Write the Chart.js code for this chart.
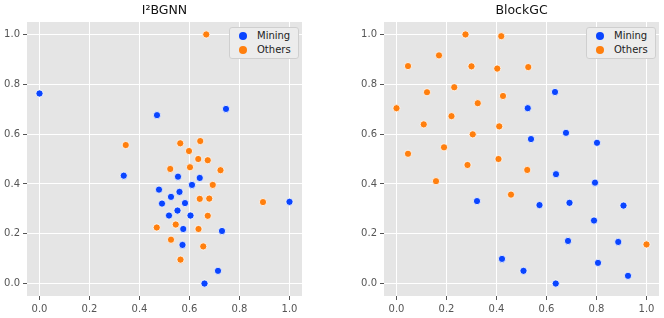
<!DOCTYPE html>
<html>
<head>
<meta charset="utf-8">
<script src="https://cdn.jsdelivr.net/npm/chart.js@4/dist/chart.umd.min.js"></script>
<style>
    html, body { margin: 0; padding: 0; background: #fff; overflow: hidden; }
    .panel { position: absolute; top: 0; width: 332px; height: 318px; }
    #panel-left { left: 0; }
    #panel-right { left: 332px; }
    .legend {
        position: absolute; top: 27px; width: 68px; height: 30px;
        background: #ececec; border: 1px solid #cfcfcf; border-radius: 3px;
        font-family: 'DejaVu Sans', sans-serif; font-size: 10px; color: #222;
    }
    .legend div { position: absolute; left: 9px; height: 14px; line-height: 14px; }
    .legend span.dot {
        display: inline-block; width: 8px; height: 8px; border-radius: 50%;
        vertical-align: -1px; margin-right: 10px;
    }
</style>
</head>
<body>
<div class="panel" id="panel-left">
    <canvas id="chart-left" width="332" height="318"></canvas>
    <div class="legend" style="left:229px">
        <div style="top:1px"><span class="dot" style="background:#0a45ff"></span>Mining</div>
        <div style="top:15px"><span class="dot" style="background:#ff7f0e"></span>Others</div>
    </div>
</div>
<div class="panel" id="panel-right">
    <canvas id="chart-right" width="332" height="318"></canvas>
    <div class="legend" style="left:254px">
        <div style="top:1px"><span class="dot" style="background:#0a45ff"></span>Mining</div>
        <div style="top:15px"><span class="dot" style="background:#ff7f0e"></span>Others</div>
    </div>
</div>
<script>
// Tick labels shared by both axes of both panels
const tickValues = [0.0, 0.2, 0.4, 0.6, 0.8, 1.0];

// I2BGNN panel
const leftMiningX = [0.000, 0.470, 0.746, 0.337, 0.554, 0.641, 0.610, 0.478, 0.560, 0.526, 0.490, 0.582, 0.552, 0.518, 0.604, 0.575, 0.730, 0.572, 0.714, 0.660, 1.000];
const leftMiningY = [0.763, 0.676, 0.701, 0.433, 0.429, 0.424, 0.396, 0.377, 0.368, 0.348, 0.321, 0.323, 0.293, 0.273, 0.273, 0.219, 0.211, 0.155, 0.051, 0.000, 0.328];
const leftOthersX = [0.667, 0.345, 0.563, 0.643, 0.598, 0.635, 0.673, 0.523, 0.602, 0.724, 0.693, 0.641, 0.679, 0.894, 0.673, 0.469, 0.545, 0.636, 0.526, 0.655, 0.564];
const leftOthersY = [1.000, 0.556, 0.563, 0.572, 0.532, 0.500, 0.495, 0.460, 0.467, 0.455, 0.396, 0.340, 0.341, 0.327, 0.272, 0.225, 0.237, 0.219, 0.176, 0.149, 0.096];

// BlockGC panel
const rightMiningX = [0.525, 0.634, 0.538, 0.678, 0.802, 0.638, 0.794, 0.322, 0.572, 0.692, 0.908, 0.790, 0.686, 0.887, 0.422, 0.806, 0.508, 0.926, 0.637];
const rightMiningY = [0.704, 0.769, 0.580, 0.605, 0.565, 0.439, 0.405, 0.331, 0.315, 0.324, 0.313, 0.253, 0.171, 0.167, 0.099, 0.083, 0.051, 0.031, 0.000];
const rightOthersX = [0.000, 0.046, 0.170, 0.276, 0.419, 0.300, 0.403, 0.527, 0.122, 0.231, 0.426, 0.325, 0.220, 0.109, 0.411, 0.305, 0.190, 0.046, 0.408, 0.158, 0.284, 0.523, 0.458, 1.000];
const rightOthersY = [0.704, 0.873, 0.916, 1.000, 0.993, 0.872, 0.863, 0.869, 0.768, 0.788, 0.753, 0.724, 0.672, 0.639, 0.631, 0.599, 0.547, 0.521, 0.500, 0.411, 0.476, 0.456, 0.357, 0.157];

const MINING_COLOR = '#0a45ff';
const OTHERS_COLOR = '#ff7f0e';
const FONT = "'DejaVu Sans', sans-serif";

// gray panel background like matplotlib's ggplot style
const panelBackground = {
    id: 'panelBackground',
    beforeDraw(chart) {
        const a = chart.chartArea;
        const ctx = chart.ctx;
        ctx.save();
        ctx.fillStyle = '#e5e5e5';
        ctx.fillRect(a.left, a.top, a.right - a.left, a.bottom - a.top);
        ctx.restore();
    }
};

function toPoints(xs, ys) {
    return xs.map((x, i) => ({ x: x, y: ys[i] }));
}

function makeDataset(label, xs, ys, color, order) {
    return {
        label: label,
        data: toPoints(xs, ys),
        backgroundColor: color,
        borderColor: '#ffffff',
        borderWidth: 0.8,
        pointRadius: 3.6,
        order: order
    };
}

function axisOptions(fitSize, isX) {
    return {
        type: 'linear',
        min: -0.05,
        max: 1.05,
        afterBuildTicks: (scale) => {
            scale.ticks = tickValues.map(v => ({ value: v }));
        },
        afterFit: (scale) => {
            if (isX) {
                scale.height = fitSize;
            } else {
                scale.width = fitSize;
            }
        },
        border: { display: false },
        grid: {
            color: '#ffffff',
            lineWidth: 1,
            drawTicks: true,
            tickLength: 4,
            tickColor: '#555555',
            tickWidth: 1
        },
        ticks: {
            color: '#555555',
            padding: 3,
            font: { family: FONT, size: 10 },
            callback: (value) => Number(value).toFixed(1)
        }
    };
}

function createChart(canvasId, title, miningX, miningY, othersX, othersY, yWidth, padRight) {
    const ctx = document.getElementById(canvasId).getContext('2d');
    return new Chart(ctx, {
        type: 'scatter',
        data: {
            datasets: [
                makeDataset('Mining', miningX, miningY, MINING_COLOR, 1),
                makeDataset('Others', othersX, othersY, OTHERS_COLOR, 0)
            ]
        },
        options: {
            responsive: false,
            animation: false,
            layout: { padding: { left: 0, right: padRight, top: 0, bottom: 0 } },
            plugins: {
                legend: { display: false },
                tooltip: { enabled: false },
                title: {
                    display: true,
                    text: title,
                    fullSize: false,
                    color: '#111111',
                    font: { family: FONT, size: 12.5, weight: 'normal' },
                    padding: { top: 3.6, bottom: 3.4 }
                }
            },
            scales: {
                x: axisOptions(22, true),
                y: axisOptions(yWidth, false)
            }
        },
        plugins: [panelBackground]
    });
}

document.addEventListener('DOMContentLoaded', () => {
    createChart('chart-left', 'I\u00B2BGNN', leftMiningX, leftMiningY, leftOthersX, leftOthersY, 27, 30);
    createChart('chart-right', 'BlockGC', rightMiningX, rightMiningY, rightOthersX, rightOthersY, 52, 5);
});
</script>
</body>
</html>
